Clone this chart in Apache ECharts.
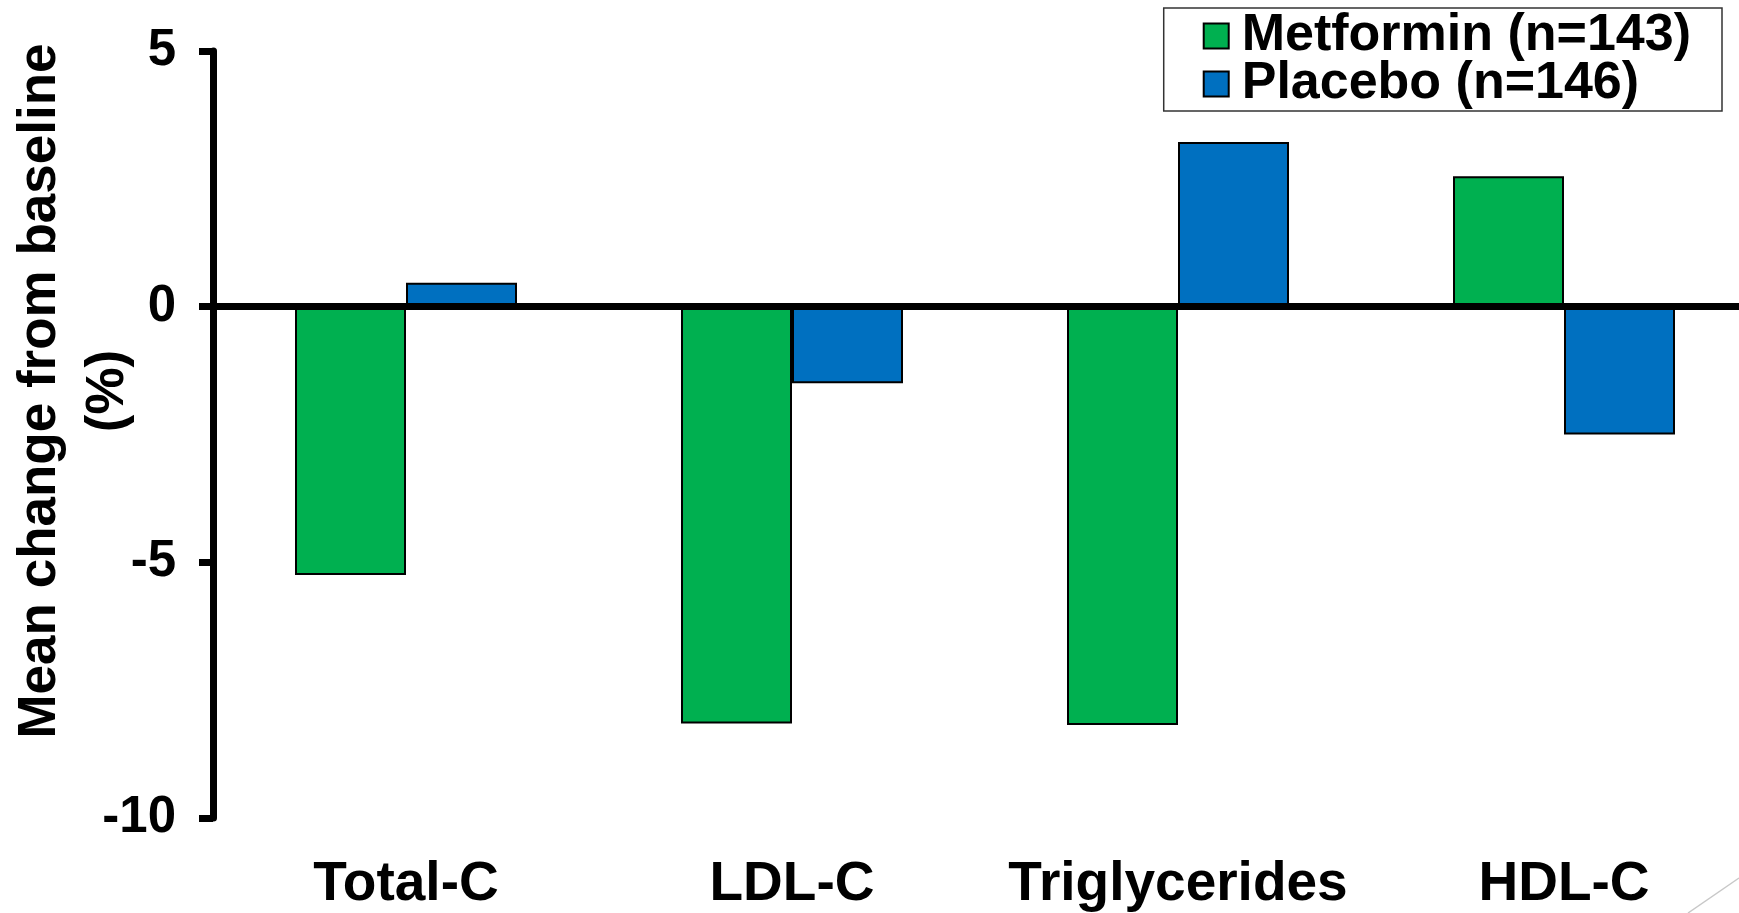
<!DOCTYPE html>
<html>
<head>
<meta charset="utf-8">
<script src="https://cdn.jsdelivr.net/npm/echarts@6/dist/echarts.min.js"></script>
<style>
html,body{margin:0;padding:0;background:#fff;width:1739px;height:913px;overflow:hidden;}
#chart{width:1757px;height:913px;}
</style>
</head>
<body>
<div id="chart"></div>
<script>
const categories = ['Total-C', 'LDL-C', 'Triglycerides', 'HDL-C'];
const metformin = [-5.25, -8.15, -8.18, 2.55];
const placebo = [0.47, -1.5, 3.22, -2.5];
const seriesNames = ['Metformin (n=143)', 'Placebo (n=146)'];
const yTicks = { min: -10, max: 5, interval: 5 };
const yTitle = 'Mean change from baseline\n(%)';

const FONT = 'Arial, "Liberation Sans", sans-serif';
const chart = echarts.init(document.getElementById('chart'), null, { renderer: 'canvas' });

chart.setOption({
  backgroundColor: '#ffffff',
  animation: false,
  grid: { left: 213, right: 0, top: 51, bottom: 95, containLabel: false },
  legend: {
    data: seriesNames,
    orient: 'vertical',
    right: 35,
    top: 8,
    padding: [2, 31, 1, 39],
    itemGap: -4,
    itemWidth: 25,
    itemHeight: 25,
    borderColor: '#333',
    borderWidth: 1.5,
    backgroundColor: '#fff',
    icon: 'rect',
    itemStyle: { borderColor: '#000', borderWidth: 2 },
    textStyle: { fontFamily: FONT, fontWeight: 'bold', fontSize: 52, color: '#000', padding: [0, 0, 0, 8] }
  },
  xAxis: [
    {
      type: 'category',
      data: categories,
      position: 'bottom',
      axisLine: { show: false, onZero: false },
      axisTick: { show: false },
      axisLabel: { interval: 0, fontFamily: FONT, fontWeight: 'bold', fontSize: 55, color: '#000', margin: 39 }
    },
    {
      type: 'category',
      data: categories,
      position: 'top',
      z: 5,
      axisLine: { show: true, onZero: true, lineStyle: { color: '#000', width: 7 } },
      axisTick: { show: false },
      axisLabel: { show: false }
    }
  ],
  yAxis: {
    type: 'value',
    min: yTicks.min,
    max: yTicks.max,
    interval: yTicks.interval,
    axisLine: { show: true, lineStyle: { color: '#000', width: 7 } },
    axisTick: { show: true, inside: false, length: 14, lineStyle: { color: '#000', width: 7 } },
    splitLine: { show: false },
    axisLabel: { fontFamily: FONT, fontWeight: 'bold', fontSize: 51, color: '#000', margin: 37 }
  },
  series: [
    {
      name: seriesNames[0],
      type: 'bar',
      data: metformin,
      barWidth: 111,
      barGap: '0%',
      itemStyle: { color: '#00B050', borderColor: '#000', borderWidth: 2 }
    },
    {
      name: seriesNames[1],
      type: 'bar',
      data: placebo,
      barWidth: 111,
      barGap: '0%',
      itemStyle: { color: '#0070C0', borderColor: '#000', borderWidth: 2 }
    }
  ],
  graphic: [
    {
      type: 'text',
      x: 74,
      y: 391,
      rotation: Math.PI / 2,
      style: {
        text: yTitle,
        font: 'bold 53px ' + FONT,
        fill: '#000',
        textAlign: 'center',
        textVerticalAlign: 'middle',
        lineHeight: 68
      }
    },
    {
      type: 'line',
      shape: { x1: 1688, y1: 913, x2: 1739, y2: 878 },
      style: { stroke: '#c8c8c8', lineWidth: 1.5 }
    }
  ]
});
</script>
</body>
</html>
